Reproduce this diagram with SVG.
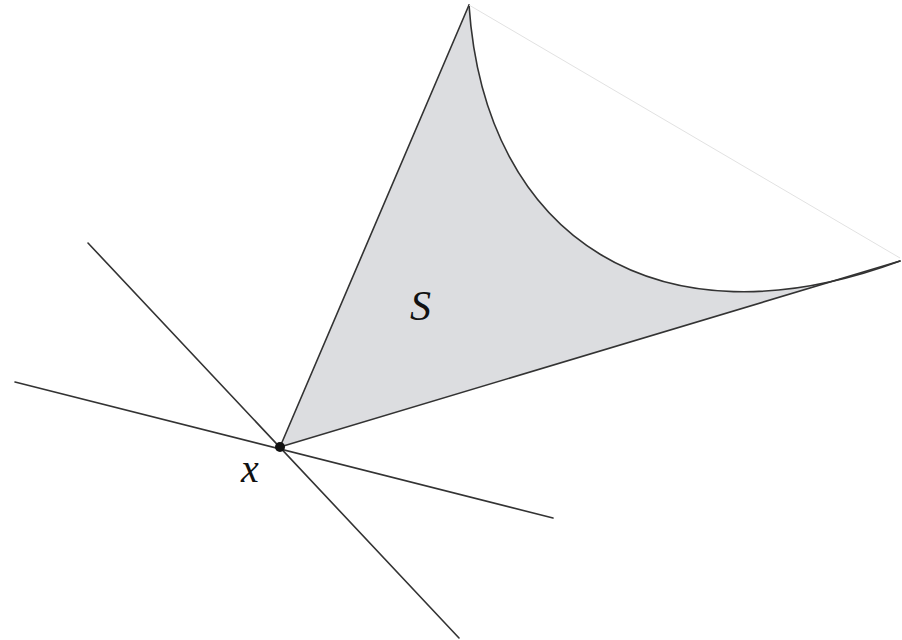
<svg xmlns="http://www.w3.org/2000/svg" width="902" height="640" viewBox="0 0 902 640">
<style>
.ln{stroke:#333;stroke-width:1.6;fill:none;stroke-linecap:round}
.lbl{font-family:"Liberation Serif","DejaVu Serif",serif;font-style:italic;fill:#111}
</style>
<rect width="902" height="640" fill="#fff"/>
<g id="region-S">
<path d="M280,447 L469,5 C485,240 660,350 900,261 Z" fill="#dcdde0" stroke="none"/>
<path class="ln" d="M280,447 L469,5"/>
<path class="ln" d="M469,5 C485,240 660,350 900,261"/>
<path class="ln" d="M280,447 L900,261"/>
<line x1="469" y1="5" x2="900" y2="258" stroke="#e2e2e2" stroke-width="1"/>
<text class="lbl" x="410" y="320" font-size="42">S</text>
</g>
<g id="connectors">
<line class="ln" x1="88" y1="243" x2="459" y2="638"/>
<line class="ln" x1="15" y1="382" x2="553" y2="518"/>
</g>
<g id="point-x">
<circle cx="280" cy="447" r="5" fill="#111"/>
<text class="lbl" x="241" y="482" font-size="40">x</text>
</g>
</svg>
